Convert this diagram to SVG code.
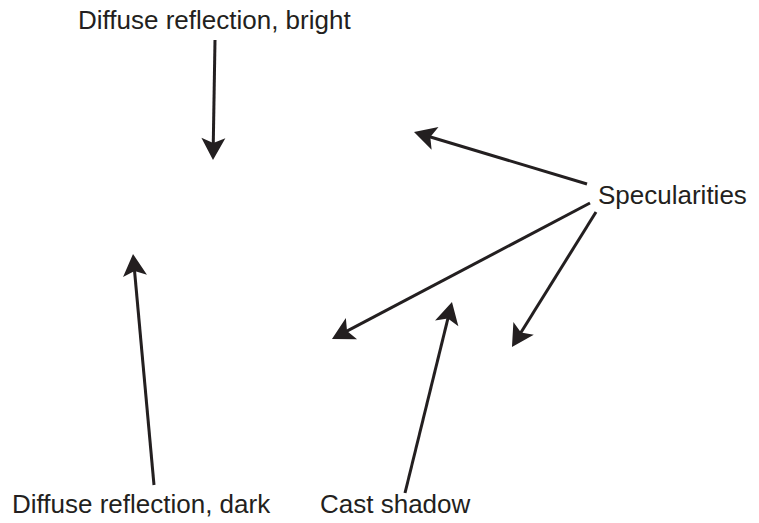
<svg xmlns="http://www.w3.org/2000/svg" width="759" height="523" viewBox="0 0 759 523">
<style>
.lbl{font-family:"Liberation Sans",Arial,sans-serif;font-size:26px;fill:#231f20}
.c{stroke:#231f20;stroke-width:3;fill:none;marker-end:url(#ah)}
</style>
<defs>
<marker id="ah" markerUnits="userSpaceOnUse" viewBox="-12 -13 25 26" refX="0" refY="0" markerWidth="25" markerHeight="26" orient="auto">
<path d="M12,0 L-10,-12 L-5,0 L-10,12 Z" fill="#231f20"/>
</marker>
</defs>
<rect width="759" height="523" fill="#fff"/>
<g id="bright"><text class="lbl" x="78" y="29">Diffuse reflection, bright</text></g>
<g id="spec"><text class="lbl" x="598" y="204">Specularities</text></g>
<g id="dark"><text class="lbl" x="12" y="513">Diffuse reflection, dark</text></g>
<g id="shadow"><text class="lbl" x="320" y="513">Cast shadow</text></g>
<g id="connectors">
<line class="c" x1="215" y1="40" x2="213.2" y2="148"/>
<line class="c" x1="587" y1="184" x2="425.5" y2="135.5"/>
<line class="c" x1="590" y1="203" x2="342.6" y2="333.4"/>
<line class="c" x1="596" y1="212" x2="518.3" y2="336.8"/>
<line class="c" x1="405" y1="493" x2="449.1" y2="313.7"/>
<line class="c" x1="154" y1="485" x2="134.1" y2="266"/>
</g>
</svg>
